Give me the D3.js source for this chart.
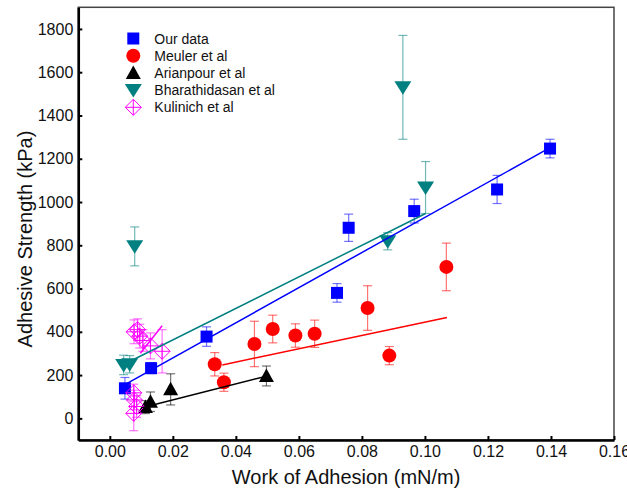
<!DOCTYPE html>
<html>
<head>
<meta charset="utf-8">
<script src="https://cdn.jsdelivr.net/npm/d3@7"></script>
<style>
  body { margin: 0; background: #fff; }
  svg { font-family: "Liberation Sans", Arial, sans-serif; }
</style>
</head>
<body>
<div id="chart"></div>
<script>
// [work of adhesion, adhesive strength, error]
const ourData = [
  [0.0048, 139, 50], [0.0131, 232, 25], [0.0307, 378, 45], [0.0721, 580, 43],
  [0.0758, 881, 63], [0.0966, 958, 55], [0.1229, 1058, 65], [0.1397, 1247, 43]
];
const meulerData = [
  [0.0333, 250, 54], [0.0362, 167, 42], [0.0459, 344, 105], [0.0517, 413, 64],
  [0.0589, 383, 54], [0.0650, 391, 63], [0.0818, 510, 103], [0.0887, 290, 42],
  [0.1068, 700, 110]
];
const arianpourData = [
  [0.0113, 52, 30], [0.0129, 77, 45], [0.0193, 134, 72], [0.0497, 196, 46]
];
const bharathidasanData = [
  [0.0044, 247, 45], [0.0063, 250, 40], [0.0079, 795, 90], [0.0882, 819, 40],
  [0.0930, 1530, 240], [0.1002, 1067, 120]
];
const kulinichData = [
  [0.0077, 400, 55], [0.0088, 410, 50], [0.0095, 380, 55], [0.0105, 360, 50],
  [0.0129, 335, 60], [0.0166, 310, 100], [0.0076, 118, 40], [0.0078, 85, 45],
  [0.0085, 55, 50], [0.0076, 23, 80]
];

// fit lines: endpoints
const ourFit = [[0.0055, 162], [0.1397, 1251]];
const meulerFit = [[0.0357, 247], [0.107, 466]];
const arianpourFit = [[0.0105, 50], [0.0497, 195]];
const bharathidasanFit = [[0.0066, 265], [0.1002, 947]];
const kulinichFit = [[0.0097, 301], [0.0166, 428]];

const xTicks = [0, 0.02, 0.04, 0.06, 0.08, 0.10, 0.12, 0.14, 0.16];
const yTicks = [0, 200, 400, 600, 800, 1000, 1200, 1400, 1600, 1800];

const series = [
  { name: "Our data", data: ourData, fit: ourFit, color: "#0000ff", shape: "square" },
  { name: "Meuler et al", data: meulerData, fit: meulerFit, color: "#ff0000", shape: "circle" },
  { name: "Arianpour et al", data: arianpourData, fit: arianpourFit, color: "#000000", shape: "up" },
  { name: "Bharathidasan et al", data: bharathidasanData, fit: bharathidasanFit, color: "#008080", shape: "down" },
  { name: "Kulinich et al", data: kulinichData, fit: kulinichFit, color: "#ff00ff", shape: "diamond" }
];

const W = 627, H = 492;
const PLOT = { left: 78.3, right: 614, top: 7.3, bottom: 440 };

const svg = d3.select("#chart").append("svg")
  .attr("width", W).attr("height", H);

const x = d3.scaleLinear().domain([-0.01, 0.16]).range([PLOT.left, PLOT.right]);
const y = d3.scaleLinear().domain([-100, 1900]).range([PLOT.bottom, PLOT.top]);

function marker(sel, shape, color) {
  if (shape === "square") {
    sel.append("rect").attr("x", -6).attr("y", -6).attr("width", 12).attr("height", 12).attr("fill", color);
  } else if (shape === "circle") {
    sel.append("circle").attr("r", 7).attr("fill", color);
  } else if (shape === "up") {
    sel.append("path").attr("d", "M0,-7.5L7.5,6L-7.5,6Z").attr("fill", color);
  } else if (shape === "down") {
    sel.append("path").attr("d", "M-8.5,-6L8.5,-6L0,7.5Z").attr("fill", color);
  } else if (shape === "diamond") {
    sel.append("path").attr("d", "M0,-8L8,0L0,8L-8,0ZM0,-8L0,8M-8,0L8,0")
      .attr("fill", "none").attr("stroke", color).attr("stroke-width", 1);
  }
}

// frame (top / right)
svg.append("rect")
  .attr("x", PLOT.left).attr("y", PLOT.top)
  .attr("width", PLOT.right - PLOT.left).attr("height", PLOT.bottom - PLOT.top)
  .attr("fill", "none").attr("stroke", "#444").attr("stroke-width", 1.5);

const plot = svg.append("g");

// error bars, markers
series.forEach((s) => {
  const g = plot.append("g");
  const pts = g.selectAll("g.pt").data(s.data).join("g").attr("class", "pt");
  pts.append("line")
    .attr("x1", (d) => x(d[0])).attr("x2", (d) => x(d[0]))
    .attr("y1", (d) => y(d[1] + d[2])).attr("y2", (d) => y(d[1] - d[2]))
    .attr("stroke", s.color).attr("stroke-opacity", 0.55).attr("stroke-width", 1.2);
  [1, -1].forEach((sgn) => {
    pts.append("line")
      .attr("x1", (d) => x(d[0]) - 4.5).attr("x2", (d) => x(d[0]) + 4.5)
      .attr("y1", (d) => y(d[1] + sgn * d[2])).attr("y2", (d) => y(d[1] + sgn * d[2]))
      .attr("stroke", s.color).attr("stroke-opacity", 0.55).attr("stroke-width", 1.2);
  });
  pts.append("g")
    .attr("transform", (d) => `translate(${x(d[0])},${y(d[1])})`)
    .each(function () { marker(d3.select(this), s.shape, s.color); });
});

// fit lines
const lineGen = d3.line().x((d) => x(d[0])).y((d) => y(d[1]));
series.forEach((s) => {
  plot.append("path").attr("d", lineGen(s.fit))
    .attr("fill", "none").attr("stroke", s.color).attr("stroke-width", 1.5);
});

// axes
const xAxis = svg.append("g")
  .attr("transform", `translate(0,${PLOT.bottom})`)
  .call(d3.axisBottom(x).tickValues(xTicks).tickFormat(d3.format(".2f"))
    .tickSizeInner(-4).tickSizeOuter(0).tickPadding(6));
const yAxis = svg.append("g")
  .attr("transform", `translate(${PLOT.left},0)`)
  .call(d3.axisLeft(y).tickValues(yTicks).tickFormat(d3.format("d"))
    .tickSizeInner(-4).tickSizeOuter(0).tickPadding(5));

[xAxis, yAxis].forEach((a) => {
  a.select(".domain").attr("stroke", "#000").attr("stroke-width", 2.5);
  a.selectAll(".tick line").attr("stroke", "#000").attr("stroke-width", 2);
  a.selectAll(".tick text").attr("font-size", 16).attr("fill", "#111")
    .attr("font-family", "'Liberation Sans', Arial, sans-serif");
});

svg.append("text")
  .attr("x", (PLOT.left + PLOT.right) / 2).attr("y", 484)
  .attr("text-anchor", "middle").attr("font-size", 20).attr("fill", "#111")
  .text("Work of Adhesion (mN/m)");

svg.append("text")
  .attr("transform", "translate(32,239) rotate(-90)")
  .attr("text-anchor", "middle").attr("font-size", 20).attr("fill", "#111")
  .text("Adhesive Strength (kPa)");

// legend
const legend = svg.append("g").attr("transform", "translate(133.3,38.5)");
const rows = legend.selectAll("g").data(series).join("g")
  .attr("transform", (d, i) => `translate(0,${i * 17.2})`);
rows.each(function (d) { marker(d3.select(this), d.shape, d.color); });
rows.append("text")
  .attr("x", 21).attr("y", 5).attr("font-size", 14).attr("fill", "#111")
  .text((d) => d.name);
</script>
</body>
</html>
